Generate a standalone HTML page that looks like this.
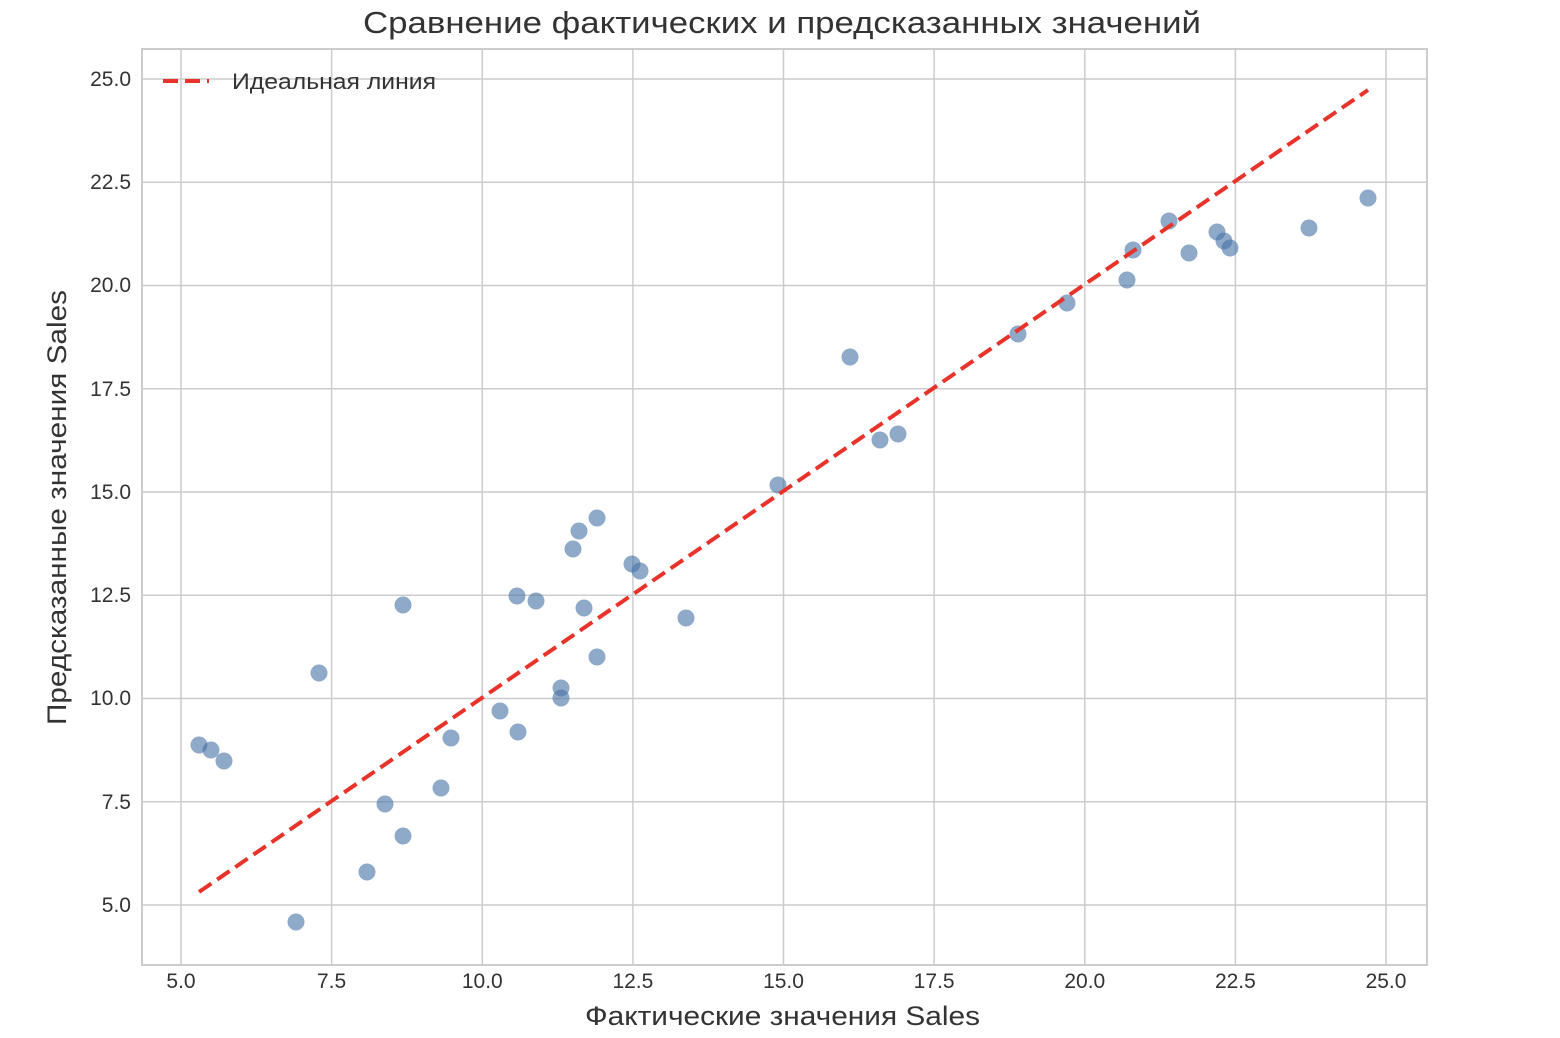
<!DOCTYPE html>
<html><head><meta charset="utf-8"><style>
html,body{margin:0;padding:0;background:#fff;}
svg{display:block;font-family:"Liberation Sans","DejaVu Sans",sans-serif;}
</style></head><body>
<svg width="1560" height="1038" viewBox="0 0 1560 1038" xmlns="http://www.w3.org/2000/svg">
<rect width="1560" height="1038" fill="#fff"/>
<g stroke="#cccccc" stroke-width="1.5">
<line x1="181" y1="49" x2="181" y2="965"/><line x1="331.6" y1="49" x2="331.6" y2="965"/>
<line x1="482.3" y1="49" x2="482.3" y2="965"/><line x1="632.9" y1="49" x2="632.9" y2="965"/>
<line x1="783.5" y1="49" x2="783.5" y2="965"/><line x1="934.1" y1="49" x2="934.1" y2="965"/>
<line x1="1084.8" y1="49" x2="1084.8" y2="965"/><line x1="1235.4" y1="49" x2="1235.4" y2="965"/>
<line x1="1386" y1="49" x2="1386" y2="965"/>
<line x1="142" y1="79" x2="1427" y2="79"/><line x1="142" y1="182.3" x2="1427" y2="182.3"/>
<line x1="142" y1="285.5" x2="1427" y2="285.5"/><line x1="142" y1="388.8" x2="1427" y2="388.8"/>
<line x1="142" y1="492" x2="1427" y2="492"/><line x1="142" y1="595.3" x2="1427" y2="595.3"/>
<line x1="142" y1="698.5" x2="1427" y2="698.5"/><line x1="142" y1="801.8" x2="1427" y2="801.8"/>
<line x1="142" y1="905" x2="1427" y2="905"/>
</g>
<rect x="142" y="49" width="1285" height="916" fill="none" stroke="#cccccc" stroke-width="2"/>
<g fill="#4a74a8" fill-opacity="0.62">
<circle cx="199" cy="745" r="8.5"/><circle cx="211" cy="750" r="8.5"/><circle cx="224" cy="761" r="8.5"/>
<circle cx="296" cy="922" r="8.5"/><circle cx="319" cy="673" r="8.5"/><circle cx="367" cy="872" r="8.5"/>
<circle cx="385" cy="804" r="8.5"/><circle cx="403" cy="605" r="8.5"/><circle cx="403" cy="836" r="8.5"/>
<circle cx="441" cy="788" r="8.5"/><circle cx="451" cy="738" r="8.5"/><circle cx="500" cy="711" r="8.5"/>
<circle cx="517" cy="596" r="8.5"/><circle cx="518" cy="732" r="8.5"/><circle cx="536" cy="601" r="8.5"/>
<circle cx="561" cy="688" r="8.5"/><circle cx="561" cy="698" r="8.5"/><circle cx="573" cy="549" r="8.5"/>
<circle cx="579" cy="531" r="8.5"/><circle cx="584" cy="608" r="8.5"/><circle cx="597" cy="518" r="8.5"/>
<circle cx="597" cy="657" r="8.5"/><circle cx="632" cy="564" r="8.5"/><circle cx="640" cy="571" r="8.5"/>
<circle cx="686" cy="618" r="8.5"/><circle cx="778" cy="485" r="8.5"/><circle cx="850" cy="357" r="8.5"/>
<circle cx="880" cy="440" r="8.5"/><circle cx="898" cy="434" r="8.5"/><circle cx="1018" cy="334" r="8.5"/>
<circle cx="1067" cy="303" r="8.5"/><circle cx="1127" cy="280" r="8.5"/><circle cx="1133" cy="250" r="8.5"/>
<circle cx="1169" cy="221" r="8.5"/><circle cx="1189" cy="253" r="8.5"/><circle cx="1217" cy="232" r="8.5"/>
<circle cx="1224" cy="241" r="8.5"/><circle cx="1230" cy="248" r="8.5"/><circle cx="1309" cy="228" r="8.5"/>
<circle cx="1368" cy="198" r="8.5"/>
</g>
<line x1="199" y1="892" x2="1368" y2="90" stroke="#e8332a" stroke-width="4" stroke-dasharray="15,7"/>
<line x1="163" y1="81" x2="209" y2="81" stroke="#e8332a" stroke-width="4" stroke-dasharray="15,7"/>
<text x="232" y="89" font-size="22" fill="#333" textLength="204" lengthAdjust="spacingAndGlyphs">Идеальная линия</text>
<g font-size="21" fill="#333" text-anchor="middle">
<text x="181" y="988">5.0</text><text x="331.6" y="988">7.5</text><text x="482.3" y="988">10.0</text>
<text x="632.9" y="988">12.5</text><text x="783.5" y="988">15.0</text><text x="934.1" y="988">17.5</text>
<text x="1084.8" y="988">20.0</text><text x="1235.4" y="988">22.5</text><text x="1386" y="988">25.0</text>
</g>
<g font-size="21" fill="#333" text-anchor="end">
<text x="131" y="86">25.0</text><text x="131" y="189">22.5</text><text x="131" y="292">20.0</text>
<text x="131" y="396">17.5</text><text x="131" y="499">15.0</text><text x="131" y="602">12.5</text>
<text x="131" y="705">10.0</text><text x="131" y="809">7.5</text><text x="131" y="912">5.0</text>
</g>
<text x="585" y="1025" font-size="27" fill="#333" textLength="395" lengthAdjust="spacingAndGlyphs">Фактические значения Sales</text>
<text x="-725" y="0" font-size="27" fill="#333" textLength="435" lengthAdjust="spacingAndGlyphs" transform="translate(66,0) rotate(-90)">Предсказанные значения Sales</text>
<text x="363" y="33" font-size="31" fill="#333" textLength="838" lengthAdjust="spacingAndGlyphs">Сравнение фактических и предсказанных значений</text>
</svg>
</body></html>
